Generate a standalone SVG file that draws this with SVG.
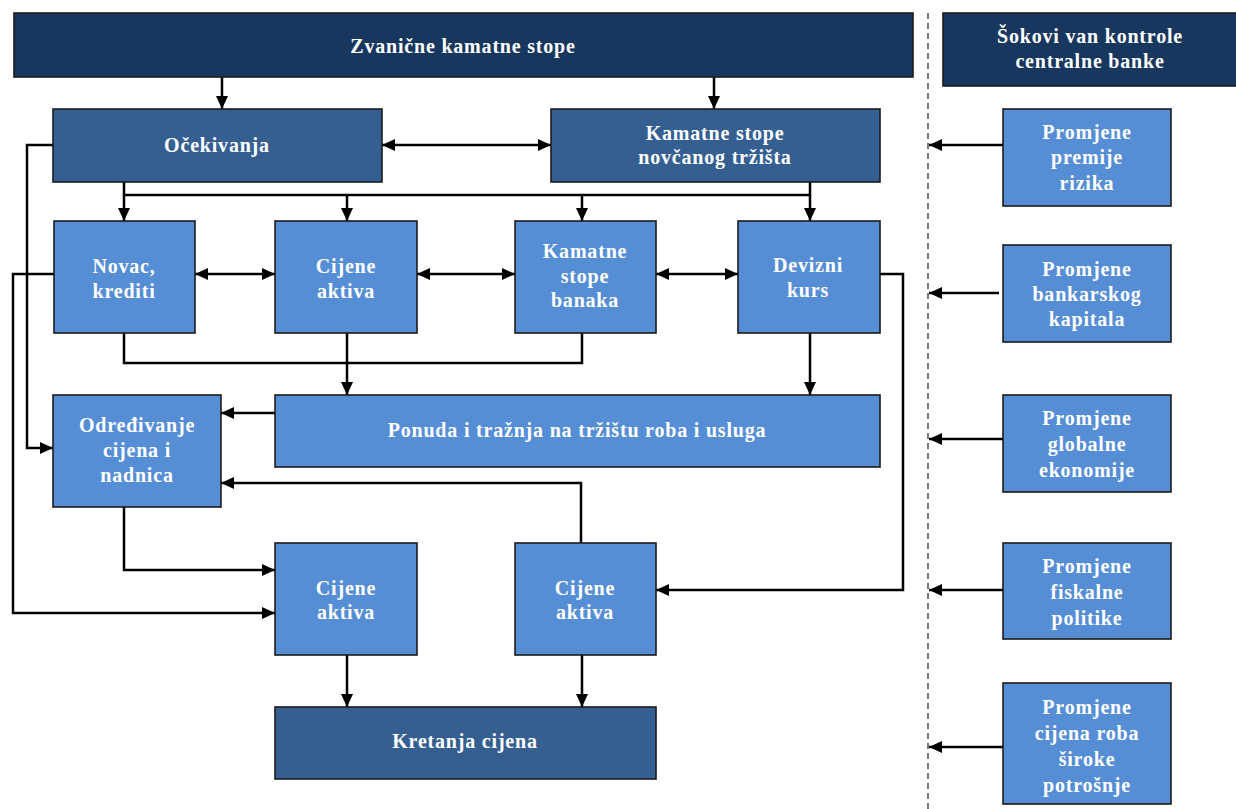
<svg xmlns="http://www.w3.org/2000/svg" width="1236" height="809" viewBox="0 0 1236 809">
  <style>
    .box { stroke: #1c1c1c; stroke-width: 1.6; }
    .dark { fill: #17375e; }
    .mid { fill: #365f91; }
    .light { fill: #558ed5; }
    .t { fill: #ffffff; font-family: "Liberation Serif", "Times New Roman", serif; font-weight: bold; font-size: 20px; letter-spacing: 0.8px; text-anchor: middle; }
    .c { fill: none; stroke: #000000; stroke-width: 2.5; }
    .a { marker-end: url(#ah); }
    .d { marker-start: url(#ah); marker-end: url(#ah); }
    .sep { fill: none; stroke: #333333; stroke-width: 1.3; stroke-dasharray: 6 4; }
  </style>
  <defs>
    <marker id="ah" markerUnits="userSpaceOnUse" markerWidth="13" markerHeight="12" refX="13" refY="6" orient="auto-start-reverse">
      <path d="M0,0 L13,6 L0,12 z" fill="#000000"/>
    </marker>
  </defs>
  <rect width="1236" height="809" fill="#ffffff"/>

  <!-- separator between policy channels and external shocks -->
  <line class="sep" x1="928" y1="13" x2="928" y2="809"/>

  <!-- connectors -->
  <g id="connectors">
    <path class="c a" d="M222,77 V109"/>
    <path class="c a" d="M714,77 V109"/>
    <path class="c d" d="M382,145 H551"/>
    <!-- upper distribution bus -->
    <path class="c" d="M124,182 V195 H810 V182"/>
    <path class="c a" d="M124,195 V221"/>
    <path class="c a" d="M347,195 V221"/>
    <path class="c a" d="M582,195 V221"/>
    <path class="c a" d="M810,195 V221"/>
    <!-- links between the four channel boxes -->
    <path class="c d" d="M195,274 H275"/>
    <path class="c d" d="M417,274 H515"/>
    <path class="c d" d="M656,274 H738"/>
    <!-- lower collection bus -->
    <path class="c" d="M124,333 V363 H582 V333"/>
    <path class="c a" d="M347,333 V395"/>
    <path class="c a" d="M810,333 V395"/>
    <!-- feeds into price and wage setting -->
    <path class="c a" d="M275,413 H221"/>
    <path class="c a" d="M53,145 H27 V448 H53"/>
    <path class="c a" d="M581,543 V483 H221"/>
    <path class="c a" d="M124,507 V570 H275"/>
    <path class="c a" d="M54,274 H13 V613 H275"/>
    <path class="c a" d="M880,274 H903 V590 H656"/>
    <!-- into price movements -->
    <path class="c a" d="M347,655 V707"/>
    <path class="c a" d="M582,655 V707"/>
    <!-- external shocks -->
    <path class="c a" d="M1003,145 H929"/>
    <path class="c a" d="M999,293 H929"/>
    <path class="c a" d="M1003,439 H929"/>
    <path class="c a" d="M1003,590 H929"/>
    <path class="c a" d="M1003,747 H929"/>
  </g>

  <g id="n-zvanicne">
    <rect class="box dark" x="14" y="13" width="899" height="64"/>
    <text class="t" x="463" y="53">Zvanične kamatne stope</text>
  </g>
  <g id="n-sokovi">
    <rect class="box dark" x="943" y="13" width="300" height="73"/>
    <text class="t" x="1090" y="43">Šokovi van kontrole</text>
    <text class="t" x="1090" y="68">centralne banke</text>
  </g>
  <g id="n-ocekivanja">
    <rect class="box mid" x="53" y="109" width="329" height="73"/>
    <text class="t" x="217" y="152">Očekivanja</text>
  </g>
  <g id="n-kamatne-novcanog">
    <rect class="box mid" x="551" y="109" width="329" height="73"/>
    <text class="t" x="715" y="140">Kamatne stope</text>
    <text class="t" x="715" y="164">novčanog tržišta</text>
  </g>
  <g id="n-novac">
    <rect class="box light" x="54" y="221" width="141" height="112"/>
    <text class="t" x="124" y="273">Novac,</text>
    <text class="t" x="124" y="298">krediti</text>
  </g>
  <g id="n-cijene-aktiva-1">
    <rect class="box light" x="275" y="221" width="142" height="112"/>
    <text class="t" x="346" y="273">Cijene</text>
    <text class="t" x="346" y="298">aktiva</text>
  </g>
  <g id="n-kamatne-banaka">
    <rect class="box light" x="515" y="221" width="141" height="112"/>
    <text class="t" x="585" y="258">Kamatne</text>
    <text class="t" x="585" y="283">stope</text>
    <text class="t" x="585" y="307">banaka</text>
  </g>
  <g id="n-devizni">
    <rect class="box light" x="738" y="221" width="142" height="112"/>
    <text class="t" x="808" y="272">Devizni</text>
    <text class="t" x="808" y="297">kurs</text>
  </g>
  <g id="n-odredjivanje">
    <rect class="box light" x="53" y="395" width="168" height="112"/>
    <text class="t" x="137" y="432">Određivanje</text>
    <text class="t" x="137" y="457">cijena i</text>
    <text class="t" x="137" y="482">nadnica</text>
  </g>
  <g id="n-ponuda">
    <rect class="box light" x="275" y="395" width="605" height="72"/>
    <text class="t" x="577" y="437">Ponuda i tražnja na tržištu roba i usluga</text>
  </g>
  <g id="n-cijene-aktiva-2">
    <rect class="box light" x="275" y="543" width="142" height="112"/>
    <text class="t" x="346" y="595">Cijene</text>
    <text class="t" x="346" y="619">aktiva</text>
  </g>
  <g id="n-cijene-aktiva-3">
    <rect class="box light" x="515" y="543" width="141" height="112"/>
    <text class="t" x="585" y="595">Cijene</text>
    <text class="t" x="585" y="619">aktiva</text>
  </g>
  <g id="n-kretanja">
    <rect class="box mid" x="275" y="707" width="381" height="72"/>
    <text class="t" x="465" y="748">Kretanja cijena</text>
  </g>

  <g id="n-premije">
    <rect class="box light" x="1003" y="109" width="168" height="97"/>
    <text class="t" x="1087" y="139">Promjene</text>
    <text class="t" x="1087" y="164">premije</text>
    <text class="t" x="1087" y="190">rizika</text>
  </g>
  <g id="n-bankarskog">
    <rect class="box light" x="1003" y="245" width="168" height="97"/>
    <text class="t" x="1087" y="276">Promjene</text>
    <text class="t" x="1087" y="301">bankarskog</text>
    <text class="t" x="1087" y="326">kapitala</text>
  </g>
  <g id="n-globalne">
    <rect class="box light" x="1003" y="395" width="168" height="97"/>
    <text class="t" x="1087" y="425">Promjene</text>
    <text class="t" x="1087" y="451">globalne</text>
    <text class="t" x="1087" y="477">ekonomije</text>
  </g>
  <g id="n-fiskalne">
    <rect class="box light" x="1003" y="543" width="168" height="96"/>
    <text class="t" x="1087" y="573">Promjene</text>
    <text class="t" x="1087" y="599">fiskalne</text>
    <text class="t" x="1087" y="625">politike</text>
  </g>
  <g id="n-cijena-roba">
    <rect class="box light" x="1003" y="683" width="168" height="121"/>
    <text class="t" x="1087" y="714">Promjene</text>
    <text class="t" x="1087" y="740">cijena roba</text>
    <text class="t" x="1087" y="766">široke</text>
    <text class="t" x="1087" y="792">potrošnje</text>
  </g>
</svg>
